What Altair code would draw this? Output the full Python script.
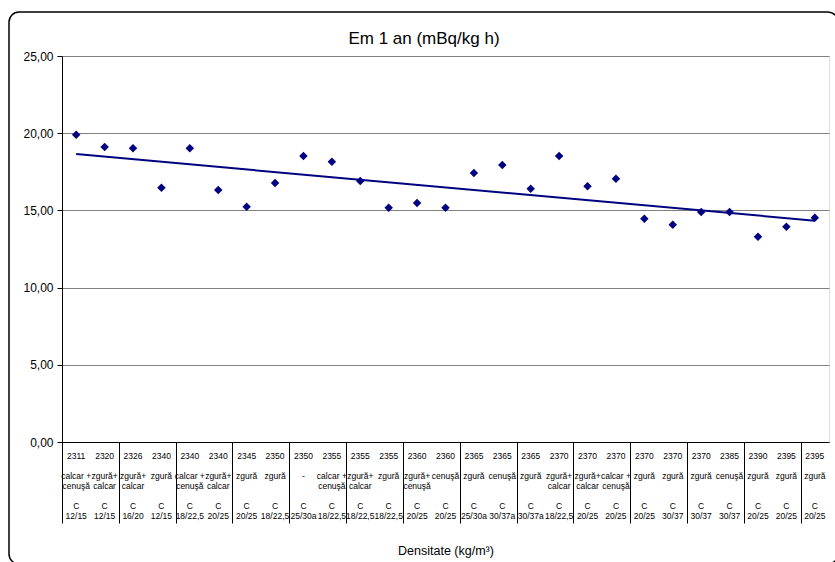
import altair as alt
import pandas as pd

# Categories: density (kg/m3), aggregate/addition type, concrete class
densitati = [2311, 2320, 2326, 2340, 2340, 2340, 2345, 2350, 2350, 2355, 2355, 2355, 2360, 2360,
             2365, 2365, 2365, 2370, 2370, 2370, 2370, 2370, 2370, 2385, 2390, 2395, 2395]
materiale = ["calcar +|cenuşă", "zgură+|calcar", "zgură+|calcar", "zgură", "calcar +|cenuşă",
             "zgură+|calcar", "zgură", "zgură", "-", "calcar +|cenuşă", "zgură+|calcar", "zgură",
             "zgură+|cenuşă", "cenuşă", "zgură", "cenuşă", "zgură", "zgură+|calcar", "zgură+|calcar",
             "calcar +|cenuşă", "zgură", "zgură", "zgură", "cenuşă", "zgură", "zgură", "zgură"]
tip = "C"
clase = ["12/15", "12/15", "16/20", "12/15", "18/22,5", "20/25", "20/25", "18/22,5", "25/30a",
         "18/22,5", "18/22,5", "18/22,5", "20/25", "20/25", "25/30a", "30/37a", "30/37a", "18/22,5",
         "20/25", "20/25", "20/25", "30/37", "30/37", "30/37", "20/25", "20/25", "20/25"]

# Exhalation rate after one year (mBq/kg h)
em = [19.90, 19.11, 19.02, 16.47, 19.02, 16.32, 15.24, 16.77, 18.52, 18.15, 16.90, 15.17, 15.48, 15.17,
      17.42, 17.94, 16.40, 18.52, 16.56, 17.05, 14.46, 14.07, 14.90, 14.90, 13.30, 13.94, 14.53]

y_ticks = [0, 5, 10, 15, 20, 25]
titlu = "Em 1 an (mBq/kg h)"

FONT = "Liberation Sans"
NAVY = "#000080"

n = len(em)
df = pd.DataFrame({
    "poz": list(range(1, n + 1)),
    "em": em,
    "densitate": [str(d) for d in densitati],
    "material": materiale,
    "clasa": [tip + "|" + c for c in clase],
})

x_enc = alt.X(
    "poz:Q",
    scale=alt.Scale(domain=[0.5, n + 0.5], nice=False, zero=False),
    axis=alt.Axis(
        values=[i + 0.5 for i in range(n + 1)],
        labels=False,
        grid=False,
        tickSize=81,
        tickColor="black",
        tickWidth=1,
        domainColor="black",
        domainWidth=1,
        title="Densitate (kg/m³)",
        titleY=108,
        titleBaseline="middle",
        titleFontSize=12.5,
        titleFontWeight="normal",
        titleFont=FONT,
        titleColor="black",
    ),
)
y_enc = alt.Y(
    "em:Q",
    scale=alt.Scale(domain=[0, 25], nice=False),
    axis=alt.Axis(
        values=y_ticks,
        labelExpr="replace(format(datum.value, '.2f'), '.', ',')",
        grid=True,
        gridColor="#808080",
        gridWidth=1,
        tickSize=5,
        tickColor="black",
        domainColor="black",
        labelFont=FONT,
        labelFontSize=12,
        labelColor="black",
        labelPadding=4,
        title="",
    ),
)

base = alt.Chart(df)

puncte = base.mark_point(shape="diamond", filled=True, size=72, color=NAVY, opacity=1).encode(
    x=x_enc, y=y_enc
)

trend = base.transform_regression("poz", "em").mark_line(color=NAVY, strokeWidth=2).encode(
    x="poz:Q", y="em:Q"
)


def rand_etichete(camp, y_pix):
    # one row block of the category labels under the axis
    return base.mark_text(
        lineBreak="|", font=FONT, fontSize=8.5, lineHeight=10.1, baseline="alphabetic",
        align="center", color="black"
    ).encode(x="poz:Q", y=alt.value(y_pix), text=f"{camp}:N")


et_dens = rand_etichete("densitate", 402.7)
et_mat = rand_etichete("material", 422.9)
et_clasa = rand_etichete("clasa", 453.2)

# chart heading, centred over the chart area
antet = alt.Chart(pd.DataFrame({"t": [titlu]})).mark_text(
    font=FONT, fontSize=17, baseline="alphabetic", align="center", color="black"
).encode(x=alt.value(362), y=alt.value(-12.5), text="t:N")

# rounded outer frame of the chart area
rama = alt.Chart(pd.DataFrame({"k": [0]})).mark_rect(
    fill="transparent", stroke="black", strokeWidth=1.5, cornerRadius=10
).encode(x=alt.value(-53), x2=alt.value(776), y=alt.value(-44), y2=alt.value(508))

chart = alt.layer(puncte, trend, et_dens, et_mat, et_clasa, antet, rama).properties(
    width=767,
    height=386,
    autosize=alt.AutoSizeParams(type="none"),
    padding={"left": 62, "top": 56, "right": 6, "bottom": 120},
).configure_view(stroke="#808080", strokeWidth=1).configure(background="white")

chart.save("out.html", embed_options={"renderer": "svg", "actions": False})
